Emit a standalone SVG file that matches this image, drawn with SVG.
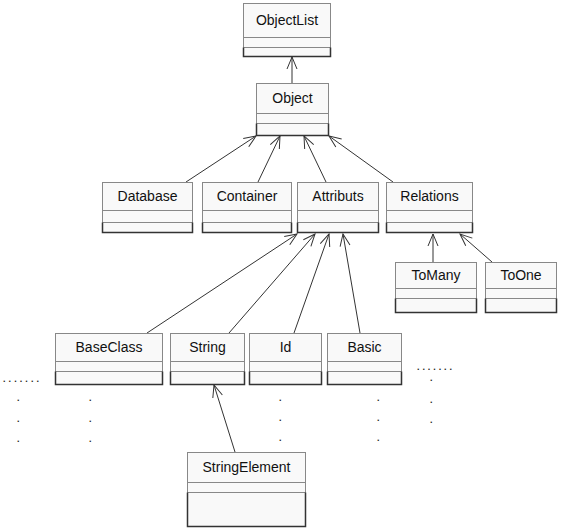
<svg xmlns="http://www.w3.org/2000/svg" width="572" height="529" viewBox="0 0 572 529">
<defs>
<marker id="open" viewBox="-13 -6 14 12" refX="0" refY="0" markerWidth="14" markerHeight="12" markerUnits="userSpaceOnUse" orient="auto">
<path d="M-12,-5 L0,0 L-12,5" fill="none" stroke="#333" stroke-width="1"/>
</marker>
<style>
.box{fill:#f9f9f9;stroke:#888;stroke-width:1}
.sep{stroke:#888;stroke-width:1}
.low{fill:none;stroke:#333;stroke-width:1.5}
.lbl{font-family:"Liberation Sans",Arial,sans-serif;font-size:14px;fill:#111;text-anchor:middle}
.dot{font-family:"Liberation Sans",Arial,sans-serif;font-size:9px;font-weight:bold;fill:#222}
.edge{stroke:#333;stroke-width:1;fill:none;marker-end:url(#open)}
</style>
</defs>
<rect width="572" height="529" fill="#fff"/>

<g id="connectors">
<line class="edge" x1="292" y1="83" x2="292" y2="57"/>
<line class="edge" x1="186" y1="182" x2="256" y2="136"/>
<line class="edge" x1="258" y1="182" x2="280" y2="136"/>
<line class="edge" x1="326" y1="182" x2="304" y2="136"/>
<line class="edge" x1="393" y1="182" x2="329" y2="136"/>
<line class="edge" x1="433" y1="262" x2="433" y2="234"/>
<line class="edge" x1="492" y1="262" x2="460" y2="234"/>
<line class="edge" x1="147" y1="333" x2="297" y2="234"/>
<line class="edge" x1="229" y1="333" x2="315" y2="234"/>
<line class="edge" x1="294" y1="333" x2="329" y2="234"/>
<line class="edge" x1="360" y1="333" x2="343" y2="234"/>
<line class="edge" x1="235" y1="452" x2="214" y2="385"/>
</g>

<g id="ObjectList">
<rect class="box" x="243.5" y="3.5" width="87" height="53"/>
<line class="sep" x1="243.5" y1="37.5" x2="330.5" y2="37.5"/>
<line class="sep" x1="243.5" y1="47.5" x2="330.5" y2="47.5"/>
<path class="low" d="M243.5,47.5 V56.5 H330.5 V47.5"/>
<text class="lbl" x="287" y="25">ObjectList</text>
</g>

<g id="Object">
<rect class="box" x="256.5" y="83.5" width="72" height="52"/>
<line class="sep" x1="256.5" y1="113.5" x2="328.5" y2="113.5"/>
<line class="sep" x1="256.5" y1="123.5" x2="328.5" y2="123.5"/>
<path class="low" d="M256.5,123.5 V135.5 H328.5 V123.5"/>
<text class="lbl" x="292.5" y="103">Object</text>
</g>

<g id="Database">
<rect class="box" x="102.5" y="182.5" width="90" height="50"/>
<line class="sep" x1="102.5" y1="210.5" x2="192.5" y2="210.5"/>
<line class="sep" x1="102.5" y1="222.5" x2="192.5" y2="222.5"/>
<path class="low" d="M102.5,222.5 V232.5 H192.5 V222.5"/>
<text class="lbl" x="147.5" y="201">Database</text>
</g>

<g id="Container">
<rect class="box" x="202.5" y="182.5" width="89" height="50"/>
<line class="sep" x1="202.5" y1="210.5" x2="291.5" y2="210.5"/>
<line class="sep" x1="202.5" y1="222.5" x2="291.5" y2="222.5"/>
<path class="low" d="M202.5,222.5 V232.5 H291.5 V222.5"/>
<text class="lbl" x="247" y="201">Container</text>
</g>

<g id="Attributs">
<rect class="box" x="297.5" y="182.5" width="81" height="50"/>
<line class="sep" x1="297.5" y1="210.5" x2="378.5" y2="210.5"/>
<line class="sep" x1="297.5" y1="222.5" x2="378.5" y2="222.5"/>
<path class="low" d="M297.5,222.5 V232.5 H378.5 V222.5"/>
<text class="lbl" x="338" y="201">Attributs</text>
</g>

<g id="Relations">
<rect class="box" x="386.5" y="182.5" width="86" height="50"/>
<line class="sep" x1="386.5" y1="210.5" x2="472.5" y2="210.5"/>
<line class="sep" x1="386.5" y1="222.5" x2="472.5" y2="222.5"/>
<path class="low" d="M386.5,222.5 V232.5 H472.5 V222.5"/>
<text class="lbl" x="429.5" y="201">Relations</text>
</g>

<g id="ToMany">
<rect class="box" x="395.5" y="262.5" width="81" height="50"/>
<line class="sep" x1="395.5" y1="288.5" x2="476.5" y2="288.5"/>
<line class="sep" x1="395.5" y1="298.5" x2="476.5" y2="298.5"/>
<path class="low" d="M395.5,298.5 V312.5 H476.5 V298.5"/>
<text class="lbl" x="436" y="280">ToMany</text>
</g>

<g id="ToOne">
<rect class="box" x="485.5" y="262.5" width="71" height="50"/>
<line class="sep" x1="485.5" y1="288.5" x2="556.5" y2="288.5"/>
<line class="sep" x1="485.5" y1="298.5" x2="556.5" y2="298.5"/>
<path class="low" d="M485.5,298.5 V312.5 H556.5 V298.5"/>
<text class="lbl" x="521" y="280">ToOne</text>
</g>

<g id="BaseClass">
<rect class="box" x="55.5" y="333.5" width="107" height="51"/>
<line class="sep" x1="55.5" y1="361.5" x2="162.5" y2="361.5"/>
<line class="sep" x1="55.5" y1="371.5" x2="162.5" y2="371.5"/>
<path class="low" d="M55.5,371.5 V384.5 H162.5 V371.5"/>
<text class="lbl" x="109" y="352">BaseClass</text>
</g>

<g id="String">
<rect class="box" x="170.5" y="333.5" width="74" height="51"/>
<line class="sep" x1="170.5" y1="361.5" x2="244.5" y2="361.5"/>
<line class="sep" x1="170.5" y1="371.5" x2="244.5" y2="371.5"/>
<path class="low" d="M170.5,371.5 V384.5 H244.5 V371.5"/>
<text class="lbl" x="207.5" y="352">String</text>
</g>

<g id="Id">
<rect class="box" x="249.5" y="333.5" width="72" height="51"/>
<line class="sep" x1="249.5" y1="361.5" x2="321.5" y2="361.5"/>
<line class="sep" x1="249.5" y1="371.5" x2="321.5" y2="371.5"/>
<path class="low" d="M249.5,371.5 V384.5 H321.5 V371.5"/>
<text class="lbl" x="285.5" y="352">Id</text>
</g>

<g id="Basic">
<rect class="box" x="327.5" y="333.5" width="74" height="51"/>
<line class="sep" x1="327.5" y1="361.5" x2="401.5" y2="361.5"/>
<line class="sep" x1="327.5" y1="371.5" x2="401.5" y2="371.5"/>
<path class="low" d="M327.5,371.5 V384.5 H401.5 V371.5"/>
<text class="lbl" x="364.5" y="352">Basic</text>
</g>

<g id="StringElement">
<rect class="box" x="187.5" y="452.5" width="118" height="74"/>
<line class="sep" x1="187.5" y1="482.5" x2="305.5" y2="482.5"/>
<line class="sep" x1="187.5" y1="492.5" x2="305.5" y2="492.5"/>
<path class="low" d="M187.5,492.5 V526.5 H305.5 V492.5"/>
<text class="lbl" x="246.5" y="472">StringElement</text>
</g>

<g id="dots">
<text class="dot" x="3" y="382" textLength="36" lengthAdjust="spacing">.......</text>
<text class="dot" x="17" y="401">.</text>
<text class="dot" x="17" y="422">.</text>
<text class="dot" x="17" y="442">.</text>
<text class="dot" x="89" y="401">.</text>
<text class="dot" x="89" y="422">.</text>
<text class="dot" x="89" y="442">.</text>
<text class="dot" x="279" y="401">.</text>
<text class="dot" x="279" y="421">.</text>
<text class="dot" x="279" y="441">.</text>
<text class="dot" x="377" y="401">.</text>
<text class="dot" x="377" y="421">.</text>
<text class="dot" x="377" y="441">.</text>
<text class="dot" x="417" y="370" textLength="35" lengthAdjust="spacing">.......</text>
<text class="dot" x="430" y="381">.</text>
<text class="dot" x="430" y="403">.</text>
<text class="dot" x="430" y="423">.</text>
</g>
</svg>
